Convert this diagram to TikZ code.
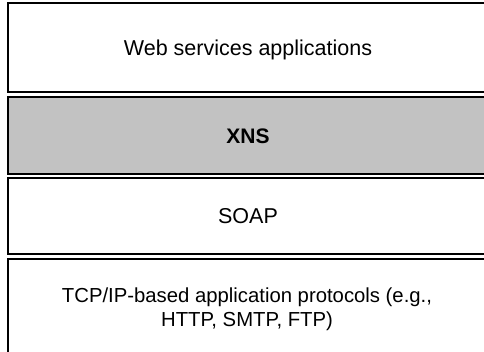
\documentclass[tikz,border=0pt]{standalone}
\usepackage{fontspec}
\setmainfont{Liberation Sans}
\begin{document}
\begin{tikzpicture}[x=1pt,y=-1pt,
  layer/.style={draw=black,line width=2pt},
  label/.style={font=\fontsize{21.5}{24}\selectfont,align=center,text=black}]
\useasboundingbox (0,0) rectangle (484,352);
\clip (0,0) rectangle (484,352);
% protocol stack layers, open on the right
\draw[layer,fill=white] (8,3.5) rectangle (520,92);
\draw[layer,fill=black!24] (8,97) rectangle (520,174.5);
\draw[layer,fill=white] (8,178.5) rectangle (520,254);
\draw[layer,fill=white] (8,259) rectangle (520,370);
% layer names
\node[label] (apps) at (248,50) {Web services applications};
\node[label,font=\fontsize{21}{24}\selectfont\bfseries] (xns) at (248,136) {XNS};
\node[label] (soap) at (248,216) {SOAP};
\node[label,font=\fontsize{20.3}{23.5}\selectfont] (tcp) at (247,309) {TCP/IP-based application protocols (e.g.,\\HTTP, SMTP, FTP)};
\end{tikzpicture}
\end{document}
